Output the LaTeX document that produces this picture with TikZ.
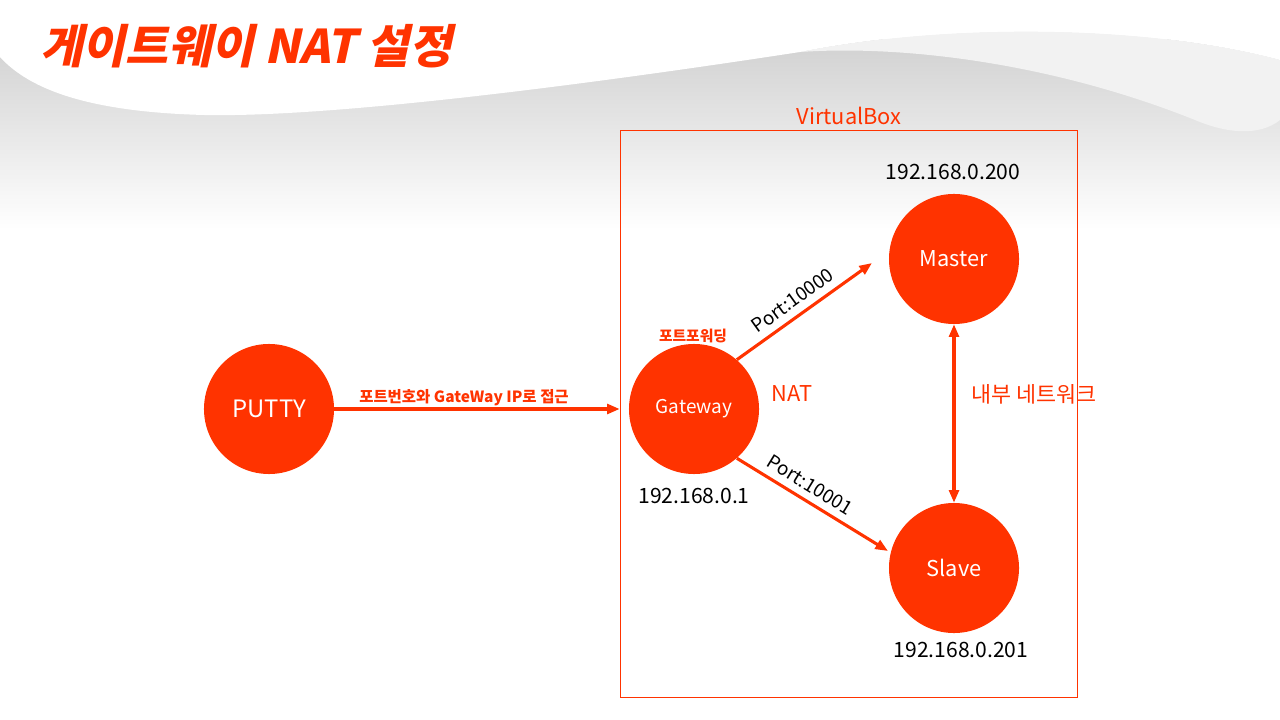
\documentclass[tikz,border=0pt]{standalone}
\usepackage{fontspec}
\setmainfont{Noto Sans CJK KR}
\newfontfamily\titlefont[FakeSlant=0.22]{Noto Sans CJK KR}
\usetikzlibrary{arrows.meta,positioning}
\definecolor{natred}{HTML}{FF3300}
\newcommand{\fsz}[1]{\fontsize{#1}{#1}\selectfont}

\tikzset{
  host/.style={circle, fill=natred, inner sep=0pt, minimum size=3.25cm, text=white},
  redlbl/.style={text=natred, inner sep=0pt},
  iplbl/.style={text=black, inner sep=0pt, font=\fsz{15}},
  link/.style={natred, line width=2.2pt, -{Triangle[length=9pt,width=7pt]}},
  portlbl/.style={sloped, above, inner sep=5pt, text=black, font=\fsz{13.5}}
}

\begin{document}
\begin{tikzpicture}[x=0.025cm, y=-0.025cm]
\useasboundingbox (0,0) rectangle (1280,720);

% slide background
\shade[top color=gray!36, middle color=gray!14, bottom color=white] (0,40) rectangle (1280,230);
\fill[gray!10] (800,52) .. controls (950,22) and (1150,25) .. (1280,60) -- (1280,120)
  .. controls (1260,136) and (1228,134) .. (1195,120) .. controls (1050,62) and (900,45) .. (800,52);
\fill[white] (0,0) -- (1280,0) -- (1280,60) .. controls (1150,25) and (950,22) .. (800,52)
  .. controls (650,75) and (350,118) .. (204,115) .. controls (90,112) and (30,90) .. (0,57) -- cycle;

% title
\node[redlbl, anchor=west, font=\titlefont\bfseries\fsz{33}] (title) at (40,46) {게이트웨이 NAT 설정};

% virtualbox frame
\draw[natred, line width=0.6pt] (620,130) rectangle (1077,697);
\node[redlbl, font=\fsz{15.5}] (vbox) at (849,116) {VirtualBox};

% hosts
\node[host, font=\fsz{17}] (putty) at (269,409) {PUTTY};
\node[host, font=\fsz{13.5}] (gw) at (694,409) {Gateway};
\node[host, font=\fsz{15.5}] (ms) at (954,259) {Master};
\node[host, font=\fsz{15.5}] (sl) at (954,568) {Slave};

% addresses
\node[iplbl] (msip) at (953,172) {192.168.0.200};
\node[iplbl] (gwip) at (694,496) {192.168.0.1};
\node[iplbl] (slip) at (961,650) {192.168.0.201};

% labels
\node[redlbl, font=\bfseries\fsz{10.5}] (fwd) at (693,336) {포트포워딩};
\node[redlbl, font=\fsz{15.5}] (nat) at (792,394) {NAT};
\node[redlbl, font=\fsz{15.5}] (inner) at (1034,394) {내부 네트워크};
\node[redlbl, font=\bfseries\fsz{11}] (access) at (464,398) {포트번호와 GateWay IP로 접근};

% connectors
\coordinate (mstip) at (872,263);
\coordinate (sltip) at (888,551);
\draw[link, shorten >=0.225cm] (putty) -- (gw);
\draw[link] (gw.49) -- node[portlbl, pos=0.48] {Port:10000} (mstip);
\draw[link] (gw.-49) -- node[portlbl, pos=0.43] {Port:10001} (sltip);
\draw[natred, line width=2.2pt, {Triangle[length=9pt,width=7pt]}-{Triangle[length=9pt,width=7pt]}] (ms) -- (sl);
\end{tikzpicture}
\end{document}
